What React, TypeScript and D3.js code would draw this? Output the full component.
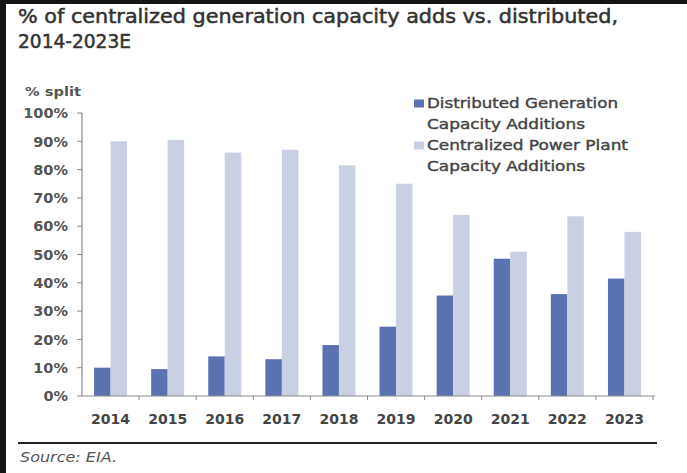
import React from "react";
import * as d3 from "d3";

const years = ["2014", "2015", "2016", "2017", "2018", "2019", "2020", "2021", "2022", "2023"];
const distributed = [10, 9.5, 14, 13, 18, 24.5, 35.5, 48.5, 36, 41.5];
const centralized = [90, 90.5, 86, 87, 81.5, 75, 64, 51, 63.5, 58];
const yTicks = [0, 10, 20, 30, 40, 50, 60, 70, 80, 90, 100];
const titleLines = ["% of centralized generation capacity adds vs. distributed,", "2014-2023E"];
const legendItems = [
  { lines: ["Distributed Generation", "Capacity Additions"], color: "#5a72b0" },
  { lines: ["Centralized Power Plant", "Capacity Additions"], color: "#c9d0e3" },
];

const W = 687;
const H = 473;
const FONT = "'DejaVu Sans', 'Liberation Sans', Arial, sans-serif";

export default function App() {
  const x = d3.scaleBand<string>().domain(years).range([82, 653]).padding(0);
  const y = d3.scaleLinear().domain([0, 100]).range([396, 113]);
  const barW = 16.5;
  const bw = x.bandwidth();

  return (
    <svg width={W} height={H} style={{ position: "absolute", left: 0, top: 0 }}>
      <rect x={0} y={0} width={W} height={H} fill="#141414" />
      <rect x={6} y={4} width={W - 6} height={H - 4} fill="#ffffff" />

      {/* title */}
      <text x={18} y={23} fontFamily={FONT} fontSize={19} fill="#333" stroke="#333" strokeWidth={0.5} textLength={600} lengthAdjust="spacingAndGlyphs">
        {titleLines[0]}
      </text>
      <text x={18} y={48} fontFamily={FONT} fontSize={19} fill="#333" stroke="#333" strokeWidth={0.5} textLength={113} lengthAdjust="spacingAndGlyphs">
        {titleLines[1]}
      </text>

      {/* y label */}
      <text x={25} y={96} fontFamily={FONT} fontSize={12} fontWeight="bold" fill="#555" textLength={56} lengthAdjust="spacingAndGlyphs">
        % split
      </text>

      {/* bars */}
      {years.map((yr, i) => {
        const cx = (x(yr) as number) + bw / 2;
        return (
          <g key={yr}>
            <rect x={cx - barW} y={y(distributed[i])} width={barW} height={y(0) - y(distributed[i])} fill={legendItems[0].color} />
            <rect x={cx} y={y(centralized[i])} width={barW} height={y(0) - y(centralized[i])} fill={legendItems[1].color} />
          </g>
        );
      })}

      {/* y axis */}
      <line x1={82} x2={82} y1={y(100)} y2={y(0)} stroke="#8a8a8a" strokeWidth={1.2} />
      {yTicks.map((t) => (
        <g key={t}>
          <line x1={77} x2={82} y1={y(t)} y2={y(t)} stroke="#8a8a8a" strokeWidth={1} />
          <text x={68} y={y(t)} dy="0.36em" textAnchor="end" fontFamily={FONT} fontSize={14.5} fontWeight="bold" fill="#555">
            {t + "%"}
          </text>
        </g>
      ))}

      {/* x axis */}
      <line x1={82} x2={655} y1={y(0)} y2={y(0)} stroke="#8a8a8a" strokeWidth={1.2} />
      {years.map((yr) => (
        <line key={"t" + yr} x1={(x(yr) as number) + bw} x2={(x(yr) as number) + bw} y1={y(0)} y2={y(0) + 4} stroke="#8a8a8a" strokeWidth={1} />
      ))}
      {years.map((yr) => (
        <text key={"l" + yr} x={(x(yr) as number) + bw / 2} y={424} textAnchor="middle" fontFamily={FONT} fontSize={14} fontWeight="bold" fill="#444">
          {yr}
        </text>
      ))}

      {/* legend */}
      {legendItems.map((it, k) => {
        const base = 108 + k * 42;
        return (
          <g key={k}>
            <rect x={414} y={base - 8.5} width={10} height={8} fill={it.color} />
            <text x={427} y={base} fontFamily={FONT} fontSize={14} fill="#444" stroke="#444" strokeWidth={0.4} textLength={k === 0 ? 191 : 201} lengthAdjust="spacingAndGlyphs">
              {it.lines[0]}
            </text>
            <text x={427} y={base + 21} fontFamily={FONT} fontSize={14} fill="#444" stroke="#444" strokeWidth={0.4} textLength={158} lengthAdjust="spacingAndGlyphs">
              {it.lines[1]}
            </text>
          </g>
        );
      })}

      {/* source */}
      <line x1={18} x2={657} y1={443} y2={443} stroke="#222" strokeWidth={2} />
      <text x={20} y={462} fontFamily={FONT} fontSize={13.5} fontStyle="italic" fill="#555" textLength={97} lengthAdjust="spacingAndGlyphs">
        Source: EIA.
      </text>
    </svg>
  );
}
